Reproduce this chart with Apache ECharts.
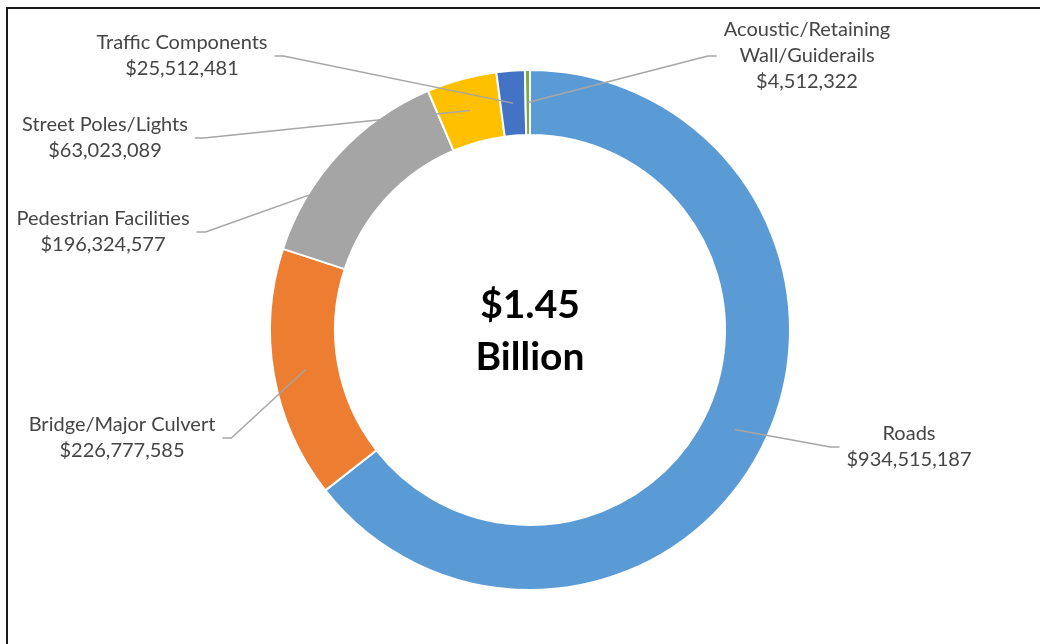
<!DOCTYPE html>
<html>
<head>
<meta charset="utf-8">
<title>Infrastructure Replacement Value</title>
<script src="https://cdn.jsdelivr.net/npm/echarts@6/dist/echarts.min.js"></script>
<style>
  html, body { margin: 0; padding: 0; background: #ffffff; }
  #chart { width: 1040px; height: 644px; }
</style>
</head>
<body>
<div id="chart"></div>
<script>
// Asset categories and their replacement values (dollars)
const categories = [
  'Roads',
  'Bridge/Major Culvert',
  'Pedestrian Facilities',
  'Street Poles/Lights',
  'Traffic Components',
  'Acoustic/Retaining Wall/Guiderails'
];
const values = [934515187, 226777585, 196324577, 63023089, 25512481, 4512322];
const colors = ['#5B9BD5', '#ED7D31', '#A5A5A5', '#FFC000', '#4472C4', '#70AD47'];
const centreText = ['$1.45', 'Billion'];

// Ring geometry
const CX = 530, CY = 330, R_IN = 195, R_OUT = 260;
// Where each label block is centred
const labelCentres = [[909, 447], [122, 438], [103, 232], [105, 138], [182, 56], [807, 56]];

const total = values.reduce((a, b) => a + b, 0);

// Point in the middle of the ring, at the middle angle of slice i (clockwise from 12 o'clock)
function ringAnchor(i) {
  let before = 0;
  for (let k = 0; k < i; k++) before += values[k];
  const mid = (before + values[i] / 2) / total * Math.PI * 2;
  const r = (R_IN + R_OUT) / 2;
  return [CX + Math.sin(mid) * r, CY - Math.cos(mid) * r];
}

function money(v) {
  return '$' + v.toLocaleString('en-US');
}

const chart = echarts.init(document.getElementById('chart'), null, { renderer: 'canvas' });

const ringData = categories.map((name, i) => ({
  name: name,
  value: values[i],
  itemStyle: { color: colors[i] }
}));

chart.setOption({
  backgroundColor: '#ffffff',
  animation: false,
  textStyle: { fontFamily: 'Lato' },
  graphic: [
    {
      type: 'rect',
      shape: { x: 7, y: 8, width: 1100, height: 1000 },
      style: { fill: 'none', stroke: '#1a1a1a', lineWidth: 2 },
      silent: true
    },
    {
      type: 'text',
      silent: true,
      style: {
        x: CX,
        y: CY + 1,
        text: centreText.join('\n'),
        font: 'bold 39px Lato',
        lineHeight: 52,
        fill: '#000000',
        textAlign: 'center',
        textVerticalAlign: 'middle'
      }
    }
  ],
  series: [
    // The coloured ring
    {
      type: 'pie',
      z: 2,
      center: [CX, CY],
      radius: [R_IN, R_OUT],
      startAngle: 90,
      clockwise: true,
      itemStyle: { borderColor: '#ffffff', borderWidth: 2 },
      label: { show: false },
      labelLine: { show: false },
      data: ringData
    },
    // Same slices, invisible, carrying the labels so their leader lines sit over the ring
    {
      type: 'pie',
      z: 3,
      silent: true,
      center: [CX, CY],
      radius: [R_IN, R_OUT],
      startAngle: 90,
      clockwise: true,
      avoidLabelOverlap: false,
      itemStyle: { color: 'rgba(0,0,0,0)', borderWidth: 0 },
      label: {
        show: true,
        position: 'outside',
        color: '#454545',
        fontSize: 20,
        fontFamily: 'Lato',
        lineHeight: 26,
        align: 'center',
        formatter: function (p) {
          const name = p.name.length > 24 ? p.name.replace(' ', '\n') : p.name;
          return name + '\n' + money(p.value);
        }
      },
      labelLine: {
        show: true,
        length: 10,
        length2: 10,
        smooth: false,
        lineStyle: { color: '#a6a6a6', width: 1.5 }
      },
      labelLayout: function (params) {
        const i = params.dataIndex;
        const x = labelCentres[i][0];
        const y = labelCentres[i][1];
        const w = params.labelRect.width;
        const side = x > CX ? -1 : 1;
        const endX = x + side * (w / 2 + 7);
        const bendX = endX + side * 9;
        return {
          x: x,
          y: y,
          align: 'center',
          verticalAlign: 'middle',
          labelLinePoints: [ringAnchor(i), [bendX, y], [endX, y]]
        };
      },
      data: categories.map((name, i) => ({
        name: name,
        value: values[i],
        itemStyle: { color: 'rgba(0,0,0,0)' }
      }))
    }
  ]
});
</script>
</body>
</html>
